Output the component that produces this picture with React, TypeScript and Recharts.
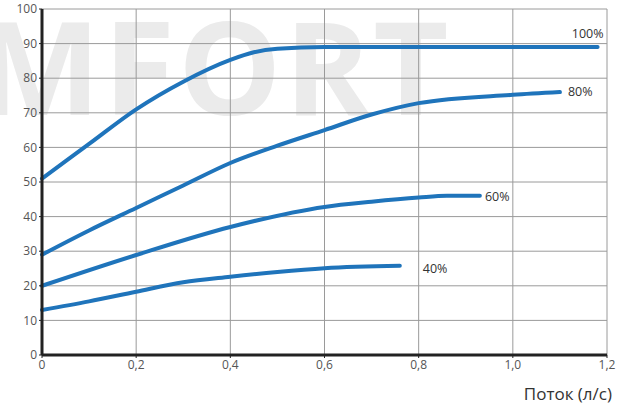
import { LineChart, Line, XAxis, YAxis, CartesianGrid } from 'recharts';

const flow100 = [0, 0.1, 0.2, 0.3, 0.4, 0.45, 0.5, 0.6, 0.8, 1.0, 1.18];
const head100 = [51, 61, 71, 79, 85.3, 87.5, 88.5, 89, 89, 89, 89];

const flow80 = [0, 0.1, 0.2, 0.3, 0.4, 0.5, 0.6, 0.7, 0.8, 1.0, 1.1];
const head80 = [29, 36, 42.5, 49, 55.5, 60.5, 65, 69.5, 72.8, 75.2, 76];

const flow60 = [0, 0.2, 0.4, 0.6, 0.7, 0.8, 0.86, 0.93];
const head60 = [20, 28.9, 37, 42.8, 44.3, 45.5, 46, 46];

const flow40 = [0, 0.1, 0.2, 0.3, 0.4, 0.5, 0.6, 0.76];
const head40 = [13, 15.5, 18.3, 21, 22.6, 24, 25.1, 25.8];

const seriesNames = ['100%', '80%', '60%', '40%'];
const xTicks = [0, 0.2, 0.4, 0.6, 0.8, 1.0, 1.2];
const yTicks = [0, 10, 20, 30, 40, 50, 60, 70, 80, 90, 100];

const toPoints = (xs: number[], ys: number[]) => xs.map((x, i) => ({ x, y: ys[i] }));

const series = [
    { name: seriesNames[0], data: toPoints(flow100, head100), dx: 6, dy: -9, anchor: 'end' },
    { name: seriesNames[1], data: toPoints(flow80, head80), dx: 8, dy: 4, anchor: 'start' },
    { name: seriesNames[2], data: toPoints(flow60, head60), dx: 5, dy: 5, anchor: 'start' },
    { name: seriesNames[3], data: toPoints(flow40, head40), dx: 23, dy: 7, anchor: 'start' },
];

const BLUE = '#1f74bb';
const FONT = '"Open Sans", "Noto Sans", sans-serif';

const fmtX = (v: number) => (v === 0 ? '0' : v.toFixed(1).replace('.', ','));

export default function App() {
    return (
        <div style={{ position: 'absolute', left: 0, top: 0, width: 627, height: 409, background: '#fff', fontFamily: FONT, overflow: 'hidden' }}>
            {/* watermark behind the grid */}
            <div
                style={{
                    position: 'absolute',
                    left: -22,
                    top: 0,
                    fontSize: 130,
                    fontWeight: 700,
                    letterSpacing: 3,
                    color: '#ebebeb',
                    fontFamily: FONT,
                    lineHeight: 1,
                    whiteSpace: 'nowrap',
                }}
            >
                MFORT
            </div>
            <div style={{ position: 'absolute', left: 0, top: 0 }}>
                <LineChart width={627} height={409} margin={{ top: 9, right: 20, left: 0, bottom: 24 }}>
                    <CartesianGrid stroke="#9a9a9a" strokeWidth={1} />
                    <XAxis
                        type="number"
                        dataKey="x"
                        domain={[0, 1.2]}
                        ticks={xTicks}
                        tickFormatter={fmtX}
                        tick={{ fontSize: 12, fill: '#555', fontFamily: FONT }}
                        tickSize={3}
                        tickLine={{ stroke: '#222' }}
                        axisLine={{ stroke: '#222', strokeWidth: 3 }}
                        height={30}
                        allowDuplicatedCategory={false}
                    />
                    <YAxis
                        type="number"
                        dataKey="y"
                        domain={[0, 100]}
                        ticks={yTicks}
                        tick={{ fontSize: 12, fill: '#555', fontFamily: FONT }}
                        tickSize={3}
                        tickLine={{ stroke: '#222' }}
                        axisLine={{ stroke: '#222', strokeWidth: 3 }}
                        width={42}
                    />
                    {series.map((s) => (
                        <Line
                            key={s.name}
                            data={s.data}
                            dataKey="y"
                            type="monotone"
                            stroke={BLUE}
                            strokeWidth={4}
                            strokeLinecap="round"
                            dot={false}
                            isAnimationActive={false}
                            label={(p: any) =>
                                p.index === s.data.length - 1 ? (
                                    <text
                                        key={s.name}
                                        x={p.x + s.dx}
                                        y={p.y + s.dy}
                                        textAnchor={s.anchor}
                                        fontSize={12.5}
                                        fill="#333"
                                        fontFamily={FONT}
                                    >
                                        {s.name}
                                    </text>
                                ) : (
                                    <g key={p.index} />
                                )
                            }
                        />
                    ))}
                    <text x={612} y={400} textAnchor="end" fontSize={17} fill="#333" fontFamily={FONT}>
                        Поток (л/с)
                    </text>
                </LineChart>
            </div>
        </div>
    );
}
